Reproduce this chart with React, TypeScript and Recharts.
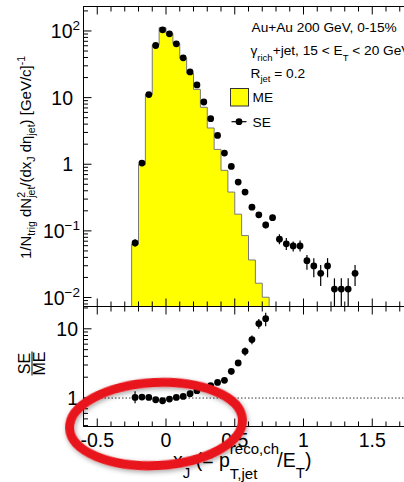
import React from "react";
import { ComposedChart, Area, Scatter, ErrorBar, XAxis, YAxis, ReferenceLine } from "recharts";

// x_J bin centres (bin width 0.05)
const X_CENTERS = [
  -0.225, -0.175, -0.125, -0.075, -0.025, 0.025, 0.075, 0.125, 0.175, 0.225, 0.275,
  0.325, 0.375, 0.425, 0.475, 0.525, 0.575, 0.625, 0.675, 0.725, 0.775, 0.825,
  0.875, 0.925, 0.975, 1.025, 1.075, 1.125, 1.175, 1.225, 1.275, 1.325, 1.375,
];

// same-event (SE) points, upper panel
const SE_VALUES = [
  0.066, 1.04, 11.1, 60.5, 104, 90.7, 64.2, 39.6, 24.3, 15.5, 8.6,
  4.83, 2.71, 1.47, 0.927, 0.54, 0.382, 0.227, 0.174, 0.123, 0.158, 0.075,
  0.064, 0.0595, 0.0595, 0.0357, 0.0298, 0.0231, 0.0298, 0.0134, 0.0134, 0.0134, 0.0231,
];
const SE_ERRORS = [
  [0.008, 0.009], [0.04, 0.04], [0.2, 0.2], [0.6, 0.6], [0.8, 0.8], [0.8, 0.8],
  [0.6, 0.6], [0.5, 0.5], [0.4, 0.4], [0.3, 0.3], [0.2, 0.2], [0.15, 0.15],
  [0.1, 0.1], [0.07, 0.07], [0.05, 0.05], [0.04, 0.04], [0.03, 0.03], [0.02, 0.02],
  [0.018, 0.018], [0.014, 0.014], [0.016, 0.016], [0.012, 0.014], [0.0122, 0.0145],
  [0.0106, 0.0095], [0.0106, 0.012], [0.0097, 0.0079], [0.0097, 0.0092], [0.0082, 0.0077],
  [0.0097, 0.0092], [0.006, 0.006], [0.006, 0.006], [0.006, 0.006], [0.0082, 0.0077],
];

// mixed-event (ME) histogram, one value per bin from -0.25 to 0.75
const ME_VALUES = [
  0.063, 0.99, 11.1, 62, 112, 92, 64.5, 39, 23.2, 13.3,
  7.16, 3.5, 1.67, 0.81, 0.382, 0.178, 0.085, 0.0366, 0.0164, 0.0101,
];

// SE/ME ratio, lower panel (first 20 bins)
const RATIO_VALUES = [
  1.02, 1.034, 1.02, 0.945, 0.914, 0.967, 1.02, 1.055, 1.154, 1.276,
  1.396, 1.507, 1.683, 1.8, 2.43, 3.22, 4.73, 7.0, 11.9, 14.0,
];
const RATIO_ERRORS = [
  [0.18, 0.23], 0.03, 0.02, 0.02, 0.02, 0.02, 0.02, 0.02, 0.03, 0.03,
  0.04, 0.05, 0.06, 0.08, 0.25, 0.33, 0.65, 1.0, 1.9, 3.1,
];

const BIN_WIDTH = 0.05;
const X_DOMAIN = [-0.6, 1.8];
const Y_DOMAIN_TOP = [0.00733, 233];
const Y_DOMAIN_RATIO = [0.388, 21];

const X_TICKS = [
  -0.5, -0.4, -0.3, -0.2, -0.1, 0, 0.1, 0.2, 0.3, 0.4, 0.5, 0.6, 0.7, 0.8, 0.9,
  1, 1.1, 1.2, 1.3, 1.4, 1.5, 1.6, 1.7, 1.8,
];
const X_LABELS = ["-0.5", "0", "0.5", "1", "1.5"];

const Y_TICKS_TOP = [
  0.008, 0.009, 0.01, 0.02, 0.03, 0.04, 0.05, 0.06, 0.07, 0.08, 0.09,
  0.1, 0.2, 0.3, 0.4, 0.5, 0.6, 0.7, 0.8, 0.9, 1, 2, 3, 4, 5, 6, 7, 8, 9,
  10, 20, 30, 40, 50, 60, 70, 80, 90, 100, 200,
];
const Y_LABELS_TOP = [
  { v: 100, base: "10", sup: "2" },
  { v: 10, base: "10" },
  { v: 1, base: "1" },
  { v: 0.1, base: "10", sup: "\u22121" },
  { v: 0.01, base: "10", sup: "\u22122" },
];
const Y_TICKS_RATIO = [0.4, 0.5, 0.6, 0.7, 0.8, 0.9, 1, 2, 3, 4, 5, 6, 7, 8, 9, 10, 20];
const Y_LABELS_RATIO = [
  { v: 10, base: "10" },
  { v: 1, base: "1" },
];

// step outline for the ME histogram
const meSteps = [
  { x: X_CENTERS[0] - BIN_WIDTH / 2, me: Y_DOMAIN_TOP[0] },
  ...ME_VALUES.map((v, i) => ({ x: X_CENTERS[i] - BIN_WIDTH / 2, me: v })),
  { x: X_CENTERS[ME_VALUES.length - 1] + BIN_WIDTH / 2, me: ME_VALUES[ME_VALUES.length - 1] },
  { x: X_CENTERS[ME_VALUES.length - 1] + BIN_WIDTH / 2, me: Y_DOMAIN_TOP[0] },
];
const seData = X_CENTERS.map((x, i) => ({ x, y: SE_VALUES[i], err: SE_ERRORS[i] }));
const ratioData = RATIO_VALUES.map((y, i) => ({ x: X_CENTERS[i], y, err: RATIO_ERRORS[i] }));

const FONT = "'Liberation Sans', Arial, Helvetica, sans-serif";

const Dot = (p: any) => <circle cx={p.cx} cy={p.cy} r={3.4} fill="#000" />;

// ticks point into the frame; majors every 0.5
function xTick(dir: number, withLabel: boolean) {
  return (props: any) => {
    const x = Number(props.x);
    const y = Number(props.y);
    const v = Number(props.payload.value);
    const major = Math.abs(v * 2 - Math.round(v * 2)) < 1e-6;
    const label = X_LABELS.find((l) => Math.abs(parseFloat(l) - v) < 1e-6);
    return (
      <g>
        <line x1={x} x2={x} y1={y} y2={y + dir * (major ? 8 : 5)} stroke="#000" strokeWidth={1} />
        {withLabel && label && (
          <text x={x} y={y + 20.5} textAnchor="middle" fontSize={19.5} fill="#000" fontFamily={FONT}>
            {label}
          </text>
        )}
      </g>
    );
  };
}

function yTick(labels: { v: number; base: string; sup?: string }[], plainGap: number, supGap: number) {
  return (props: any) => {
    const x = Number(props.x);
    const y = Number(props.y);
    const v = Number(props.payload.value);
    const lab = labels.find((l) => Math.abs(l.v - v) < l.v * 1e-6);
    return (
      <g>
        <line x1={x} x2={x + (lab ? 8 : 4.5)} y1={y} y2={y} stroke="#000" strokeWidth={1} />
        {lab && (
          <text
            x={x - (lab.sup ? supGap : plainGap)}
            y={y + 7}
            textAnchor="end"
            fontSize={19.5}
            fill="#000"
            fontFamily={FONT}
          >
            {lab.base}
            {lab.sup && (
              <tspan dy={-8} fontSize={13.5}>
                {lab.sup}
              </tspan>
            )}
          </text>
        )}
      </g>
    );
  };
}

const axisLine = { stroke: "#000", strokeWidth: 1 };

export default function App() {
  return (
    <div
      style={{
        position: "absolute",
        left: 0,
        top: 0,
        width: 404,
        height: 482,
        overflow: "hidden",
        background: "#fff",
        fontFamily: FONT,
      }}
    >
      {/* upper panel: SE points over ME histogram */}
      <div style={{ position: "absolute", left: 0, top: 0 }}>
        <ComposedChart width={430} height={310} data={meSteps} margin={{ top: 5.5, right: 16.5, bottom: 2.5, left: 0 }}>
          <XAxis
            type="number"
            dataKey="x"
            domain={X_DOMAIN}
            allowDataOverflow
            ticks={X_TICKS}
            interval={0}
            height={1}
            tickSize={0}
            tickMargin={0}
            tickLine={false}
            axisLine={axisLine}
            tick={xTick(-1, false)}
          />
          <XAxis
            xAxisId="top"
            orientation="top"
            type="number"
            dataKey="x"
            domain={X_DOMAIN}
            allowDataOverflow
            ticks={X_TICKS}
            interval={0}
            height={1}
            tickSize={0}
            tickMargin={0}
            tickLine={false}
            axisLine={axisLine}
            tick={xTick(1, false)}
          />
          <YAxis
            type="number"
            scale="log"
            domain={Y_DOMAIN_TOP}
            allowDataOverflow
            ticks={Y_TICKS_TOP}
            interval={0}
            width={83.5}
            tickSize={0}
            tickMargin={0}
            tickLine={false}
            axisLine={axisLine}
            tick={yTick(Y_LABELS_TOP, 10.5, 3.5)}
          />
          <Area
            type="stepAfter"
            dataKey="me"
            fill="#ffff00"
            fillOpacity={1}
            stroke="#7a7a7a"
            strokeWidth={1}
            isAnimationActive={false}
            dot={false}
            activeDot={false}
          />
          <ReferenceLine x={X_DOMAIN[0]} stroke="#000" strokeWidth={1} />
          <ReferenceLine y={Y_DOMAIN_TOP[1]} stroke="#000" strokeWidth={1} />
          <ReferenceLine y={Y_DOMAIN_TOP[0]} stroke="#000" strokeWidth={1} />
          <Scatter data={seData} dataKey="y" fill="#000" shape={Dot} isAnimationActive={false}>
            <ErrorBar dataKey="err" direction="y" width={0} stroke="#000" strokeWidth={1.2} />
          </Scatter>
        </ComposedChart>
      </div>

      {/* lower panel: SE/ME */}
      <div style={{ position: "absolute", left: 0, top: 300 }}>
        <ComposedChart width={430} height={182} data={ratioData} margin={{ top: 5.5, right: 16.5, bottom: 54.5, left: 0 }}>
          <XAxis
            type="number"
            dataKey="x"
            domain={X_DOMAIN}
            allowDataOverflow
            ticks={X_TICKS}
            interval={0}
            height={1}
            tickSize={0}
            tickMargin={0}
            tickLine={false}
            axisLine={axisLine}
            tick={xTick(-1, true)}
          />
          <XAxis
            xAxisId="top"
            orientation="top"
            type="number"
            dataKey="x"
            domain={X_DOMAIN}
            allowDataOverflow
            ticks={X_TICKS}
            interval={0}
            height={1}
            tickSize={0}
            tickMargin={0}
            tickLine={false}
            axisLine={axisLine}
            tick={xTick(1, false)}
          />
          <YAxis
            type="number"
            scale="log"
            domain={Y_DOMAIN_RATIO}
            allowDataOverflow
            ticks={Y_TICKS_RATIO}
            interval={0}
            width={83.5}
            tickSize={0}
            tickMargin={0}
            tickLine={false}
            axisLine={axisLine}
            tick={yTick(Y_LABELS_RATIO, 5.5, 5.5)}
          />
          <ReferenceLine x={X_DOMAIN[0]} stroke="#000" strokeWidth={1} />
          <ReferenceLine y={Y_DOMAIN_RATIO[1]} stroke="#000" strokeWidth={1} />
          <ReferenceLine y={Y_DOMAIN_RATIO[0]} stroke="#000" strokeWidth={1} />
          <ReferenceLine y={1} stroke="#000" strokeWidth={0.8} strokeDasharray="1.5 2" />
          <Scatter data={ratioData} dataKey="y" fill="#000" shape={Dot} isAnimationActive={false}>
            <ErrorBar dataKey="err" direction="y" width={0} stroke="#000" strokeWidth={1.2} />
          </Scatter>
        </ComposedChart>
      </div>

      {/* titles, legend and the red annotation */}
      <svg
        width={404}
        height={482}
        style={{ position: "absolute", left: 0, top: 0, pointerEvents: "none" }}
        fontFamily={FONT}
      >
        <defs>
          <filter id="shadow" x="-20%" y="-20%" width="140%" height="140%">
            <feDropShadow dx="1" dy="2" stdDeviation="2.5" floodColor="#000" floodOpacity="0.35" />
          </filter>
        </defs>

        <text x={251.5} y={31.5} fontSize={13.7}>Au+Au 200 GeV, 0-15%</text>
        <text x={250.5} y={55} fontSize={13.7}>
          γ<tspan fontSize={9.5} dy={6}>rich</tspan>
          <tspan dy={-6}>+jet, 15 &lt; E</tspan>
          <tspan fontSize={9.5} dy={6}>T</tspan>
          <tspan dy={-6}> &lt; 20 GeV</tspan>
        </text>
        <text x={250.5} y={78} fontSize={13.7}>
          R<tspan fontSize={9.5} dy={4}>jet</tspan>
          <tspan dy={-4}> = 0.2</tspan>
        </text>
        <rect x={230.5} y={88.5} width={18} height={17.5} fill="#ffff00" stroke="#333" strokeWidth={1} />
        <text x={252.5} y={102} fontSize={13.7}>ME</text>
        <line x1={231.5} x2={246.5} y1={121.7} y2={121.7} stroke="#000" strokeWidth={1.2} />
        <circle cx={239} cy={121.7} r={3.4} fill="#000" />
        <text x={252.5} y={126.5} fontSize={13.7}>SE</text>

        <text transform="translate(31,157.5) rotate(-90)" textAnchor="middle" fontSize={15}>
          1/N<tspan fontSize={10.5} dy={4}>trig</tspan>
          <tspan dy={-4}> dN</tspan>
          <tspan fontSize={10.5} dy={-6}>2</tspan>
          <tspan fontSize={10.5} dx={-5.8} dy={10}>jet</tspan>
          <tspan dy={-4}>/(dx</tspan>
          <tspan fontSize={10.5} dy={4}>J</tspan>
          <tspan dy={-4}> dη</tspan>
          <tspan fontSize={10.5} dy={4}>jet</tspan>
          <tspan dy={-4}>) [GeV/c]</tspan>
          <tspan fontSize={10.5} dy={-6}>-1</tspan>
        </text>

        <g transform="translate(31.5,363.5) rotate(-90)">
          <text x={0} y={-1.5} textAnchor="middle" fontSize={16}>SE</text>
          <line x1={-12} x2={12} y1={0.5} y2={0.5} stroke="#000" strokeWidth={1} />
          <text x={0} y={13.5} textAnchor="middle" fontSize={16}>ME</text>
        </g>

        <text x={173} y={467} fontSize={19.5}>
          x<tspan fontSize={15} dy={11}>J</tspan>
          <tspan dy={-11}> (= p</tspan>
          <tspan fontSize={15} dy={-13.5}>reco,ch</tspan>
          <tspan fontSize={15} dx={-49.2} dy={25.5}>T,jet</tspan>
          <tspan dx={20} dy={-12}>/E</tspan>
          <tspan fontSize={15} dy={11}>T</tspan>
          <tspan dy={-11}>)</tspan>
        </text>

        <ellipse
          cx={156}
          cy={424}
          rx={86.5}
          ry={41.5}
          transform="rotate(-3 156 424)"
          fill="none"
          stroke="#e8141c"
          strokeWidth={9}
          filter="url(#shadow)"
        />
      </svg>
    </div>
  );
}
